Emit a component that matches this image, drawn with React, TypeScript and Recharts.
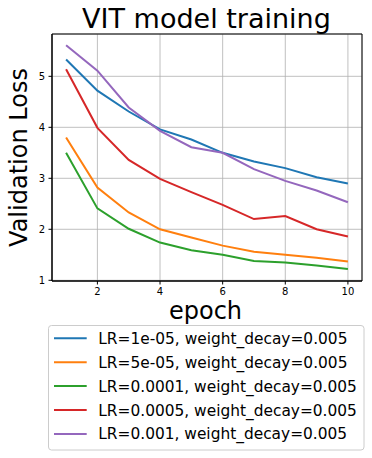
import React from 'react';
import { LineChart, Line, XAxis, YAxis, CartesianGrid, ReferenceArea } from 'recharts';

const epochs = [1, 2, 3, 4, 5, 6, 7, 8, 9, 10];
const lr1e5 = [5.33, 4.72, 4.31, 3.96, 3.76, 3.5, 3.33, 3.2, 3.02, 2.9];
const lr5e5 = [3.8, 2.82, 2.33, 2.0, 1.84, 1.68, 1.56, 1.5, 1.44, 1.37];
const lr1e4 = [3.5, 2.41, 2.01, 1.74, 1.59, 1.5, 1.38, 1.35, 1.29, 1.22];
const lr5e4 = [5.14, 3.99, 3.36, 2.99, 2.73, 2.48, 2.2, 2.26, 2.0, 1.86];
const lr1e3 = [5.61, 5.11, 4.39, 3.93, 3.61, 3.5, 3.18, 2.95, 2.76, 2.53];

const seriesKeys = ['a', 'b', 'c', 'd', 'e'];
const seriesValues = [lr1e5, lr5e5, lr1e4, lr5e4, lr1e3];
const seriesNames = [
  'LR=1e-05, weight_decay=0.005',
  'LR=5e-05, weight_decay=0.005',
  'LR=0.0001, weight_decay=0.005',
  'LR=0.0005, weight_decay=0.005',
  'LR=0.001, weight_decay=0.005',
];
const seriesColors = ['#1f77b4', '#ff7f0e', '#2ca02c', '#d62728', '#9467bd'];

const xTicks = [2, 4, 6, 8, 10];
const yTicks = [1, 2, 3, 4, 5];
const xDomain = [0.55, 10.45];
const yDomain = [0.986, 5.83];

const title = 'VIT model training';
const xLabel = 'epoch';
const yLabel = 'Validation Loss';

const data = epochs.map((e, i) => {
  const row: Record<string, number> = { epoch: e };
  seriesKeys.forEach((k, j) => {
    row[k] = seriesValues[j][i];
  });
  return row;
});

const FONT = 'DejaVu Sans';

export default function App() {
  return (
    <div style={{ position: 'absolute', left: 0, top: 0, width: 372, height: 458, background: '#fff' }}>
      <LineChart
        width={372}
        height={458}
        data={data}
        margin={{ top: 34, right: 10, left: 0, bottom: 0 }}
      >
        <CartesianGrid stroke="#b0b0b0" strokeWidth={0.8} />
        <XAxis
          dataKey="epoch"
          type="number"
          domain={xDomain}
          ticks={xTicks}
          allowDataOverflow
          height={177}
          tickSize={3.5}
          tickMargin={3.5}
          stroke="#000"
          tick={{ fill: '#000', fontSize: 10, fontFamily: FONT }}
        />
        <YAxis
          type="number"
          domain={yDomain}
          ticks={yTicks}
          allowDataOverflow
          width={52}
          tickSize={3.5}
          tickMargin={3.5}
          stroke="#000"
          tick={{ fill: '#000', fontSize: 10, fontFamily: FONT }}
        />
        {seriesKeys.map((k, j) => (
          <Line
            key={k}
            dataKey={k}
            name={seriesNames[j]}
            stroke={seriesColors[j]}
            strokeWidth={2}
            dot={false}
            isAnimationActive={false}
            type="linear"
          />
        ))}
        <ReferenceArea
          x1={xDomain[0]}
          x2={xDomain[1]}
          y1={yDomain[0]}
          y2={yDomain[1]}
          fill="none"
          stroke="#000"
          strokeWidth={1}
          ifOverflow="extendDomain"
        />
      </LineChart>
      <svg
        width={372}
        height={458}
        style={{ position: 'absolute', left: 0, top: 0, pointerEvents: 'none' }}
      >
        <text x={206.5} y={27.5} textAnchor="middle" fontFamily={FONT} fontSize={27} fill="#000">
          {title}
        </text>
        <text x={205.5} y={319} textAnchor="middle" fontFamily={FONT} fontSize={24} fill="#000">
          {xLabel}
        </text>
        <text
          x={0}
          y={0}
          transform="translate(26.5,157.5) rotate(-90)"
          textAnchor="middle"
          fontFamily={FONT}
          fontSize={24}
          fill="#000"
        >
          {yLabel}
        </text>
        <rect x={48.5} y={325.5} width={315.5} height={124.5} rx={3} fill="#fff" fillOpacity={0.8} stroke="#cccccc" strokeWidth={1} />
        {seriesNames.map((n, j) => {
          const cy = 338.3 + j * 23.9;
          return (
            <g key={n}>
              <line x1={54} x2={86.7} y1={cy} y2={cy} stroke={seriesColors[j]} strokeWidth={2} />
              <text x={98.3} y={cy} dy="0.36em" fontFamily={FONT} fontSize={15.4} fill="#000">
                {n}
              </text>
            </g>
          );
        })}
      </svg>
    </div>
  );
}
